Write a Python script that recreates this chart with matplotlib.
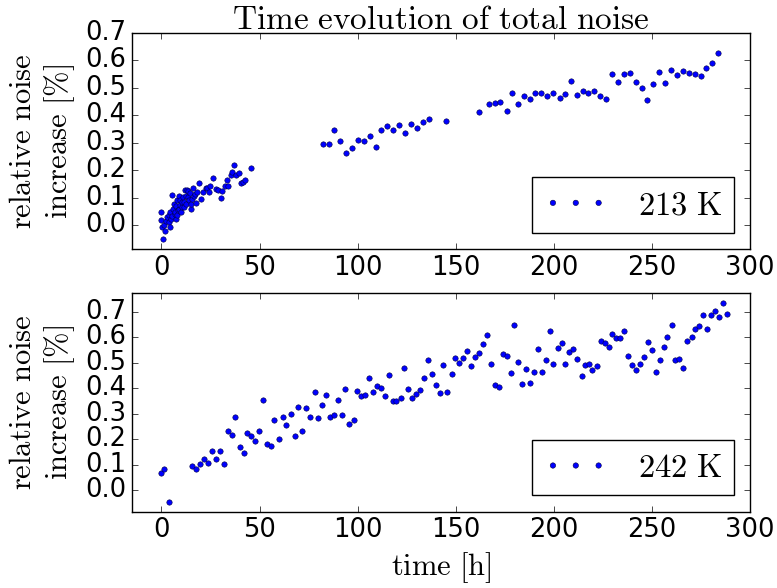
import matplotlib
matplotlib.use('Agg')
import matplotlib.pyplot as plt

# 213 K: time [h] and relative noise increase [%]
t_213 = [0, 0, 0.8, 0.5, 1.9, 1.5, 2.5, 2.9, 3.9, 3.6, 4.2, 4.6, 4.9, 5.4, 5.6, 5.9,
         6.5, 6.8, 7.0, 7.3, 7.6, 8.0, 8.1, 8.5, 8.8, 9.0, 9.3, 9.7, 10.2, 10.5, 10.7,
         11.0, 11.4, 11.5, 11.9, 12.4, 12.7, 13.1, 13.6, 13.6, 14.1, 14.4, 14.9, 15.3,
         15.4, 16.1, 16.6, 17.1, 17.5, 18.2,
         19.2, 20.0, 21.2, 22.6, 23.3, 24.1, 25.0, 26.3, 27.7, 28.9, 30.2, 31.1, 32.3,
         33.4, 34.1, 35.3, 36.2, 37.2, 38.2, 39.4, 40.4, 41.6, 42.6, 45.5,
         82.3, 85.2, 88.1, 91.2, 94.2, 97.3, 100.3, 103.4, 106.5, 109.3, 112.1, 115.1,
         118.2, 121.2, 124.1, 127.2, 130.2, 133.3, 136.3, 145.2,
         162.0, 166.7, 169.8, 172.8, 175.9, 178.9, 181.8, 185.0, 187.6, 190.6, 193.7,
         196.7, 199.8, 202.9, 205.8, 208.8, 211.9, 214.9, 217.6, 220.7, 223.6, 226.6,
         229.7, 232.7, 235.8, 238.7, 241.9, 244.8, 247.5, 250.6, 253.6, 256.7, 259.7,
         262.6, 265.9, 268.8, 271.8, 274.9, 277.6, 280.6, 283.7]
n_213 = [0.048, 0.018, -0.051, -0.006, -0.02, 0.002, 0.014, 0.03, 0.036, 0.012, -0.006,
         0.048, 0.024, 0.033, 0.11, 0.06, 0.078, 0.042, 0.048, 0.024, 0.069, 0.036, 0.09,
         0.054, 0.06, 0.105, 0.072, 0.093, 0.048, 0.066, 0.084, 0.102, 0.084, 0.066,
         0.127, 0.106, 0.078, 0.129, 0.102, 0.126, 0.09, 0.117, 0.06, 0.078, 0.096,
         0.136, 0.108, 0.114, 0.081, 0.12,
         0.153, 0.094, 0.12, 0.134, 0.136, 0.122, 0.141, 0.172, 0.131, 0.129, 0.1, 0.125,
         0.143, 0.165, 0.143, 0.184, 0.193, 0.218, 0.184, 0.189, 0.153, 0.159, 0.163,
         0.207,
         0.295, 0.295, 0.345, 0.307, 0.264, 0.28, 0.311, 0.307, 0.325, 0.283, 0.347,
         0.363, 0.347, 0.365, 0.335, 0.369, 0.353, 0.375, 0.388, 0.378,
         0.412, 0.441, 0.445, 0.449, 0.416, 0.483, 0.441, 0.469, 0.461, 0.483, 0.483,
         0.471, 0.483, 0.465, 0.478, 0.524, 0.473, 0.487, 0.481, 0.487, 0.471, 0.459,
         0.552, 0.52, 0.551, 0.554, 0.52, 0.499, 0.455, 0.514, 0.558, 0.518, 0.564,
         0.548, 0.56, 0.555, 0.549, 0.542, 0.573, 0.592, 0.629]

# 242 K
t_242 = [-0.2, 1.5, 3.7, 15.8, 17.7, 19.9, 21.9, 23.8, 25.8, 27.7, 29.9, 32.1, 33.8,
         36.0, 37.7, 39.9, 41.9, 43.8, 45.8, 47.7, 49.7, 52.0, 53.7, 55.9, 57.6, 59.8,
         62.0, 63.7, 65.9, 68.1, 69.8, 71.8, 73.7, 75.9, 78.1, 79.8, 81.8, 83.7, 85.7,
         87.9, 89.8, 91.9, 93.7, 95.8, 98.0, 99.8, 101.9, 103.9, 105.8, 108.0, 109.8,
         111.9, 113.8, 115.8, 117.8, 119.7, 121.9, 123.8, 125.8, 127.8, 129.7, 131.9,
         133.6, 135.8, 137.9, 139.7, 141.8, 143.6, 145.7, 147.9, 149.7, 151.7,
         153.8, 155.8, 157.9, 159.8, 161.8, 164.0, 165.9, 167.9, 169.8, 172.0, 174.0,
         175.9, 178.0, 179.8, 181.8, 184.0, 185.9, 187.9, 189.8, 191.9, 193.9, 195.8,
         198.0, 199.8, 201.9, 204.1, 205.8, 207.8, 209.7, 211.9, 214.1, 215.8, 218.0,
         219.7, 221.9, 224.0, 226.0, 228.0, 229.7, 231.9, 233.9, 235.8, 238.0, 239.7,
         241.9, 244.0, 245.9, 248.1, 250.1, 252.2, 254.0, 255.9, 257.9, 260.1, 262.0,
         264.0, 265.9, 267.8, 270.2, 272.1, 274.1, 276.0, 278.0, 280.1, 282.0, 284.0,
         286.1, 288.1]
n_242 = [0.068, 0.081, -0.046, 0.095, 0.084, 0.102, 0.122, 0.108, 0.152, 0.122, 0.152,
         0.102, 0.233, 0.218, 0.289, 0.17, 0.145, 0.226, 0.212, 0.192, 0.233, 0.353,
         0.183, 0.172, 0.276, 0.201, 0.289, 0.256, 0.299, 0.213, 0.325, 0.233, 0.323,
         0.289, 0.385, 0.282, 0.333, 0.372, 0.289, 0.295, 0.353, 0.295, 0.396, 0.259,
         0.276, 0.389, 0.37, 0.372, 0.439, 0.385, 0.409, 0.402, 0.37, 0.452, 0.349,
         0.349, 0.362, 0.48, 0.399, 0.363, 0.376, 0.393, 0.439, 0.51, 0.456, 0.413,
         0.383, 0.49, 0.387, 0.456, 0.52, 0.5,
         0.52, 0.546, 0.486, 0.523, 0.541, 0.574, 0.608, 0.497, 0.414, 0.406, 0.537,
         0.529, 0.46, 0.648, 0.504, 0.419, 0.477, 0.423, 0.464, 0.554, 0.464, 0.511,
         0.627, 0.494, 0.557, 0.578, 0.497, 0.544, 0.553, 0.517, 0.447, 0.491, 0.494,
         0.473, 0.486, 0.585, 0.58, 0.564, 0.614, 0.597, 0.597, 0.625, 0.527, 0.491,
         0.473, 0.494, 0.524, 0.584, 0.55, 0.464, 0.511, 0.561, 0.601, 0.648, 0.511,
         0.517, 0.481, 0.588, 0.601, 0.634, 0.646, 0.687, 0.634, 0.689, 0.704, 0.681,
         0.734, 0.694]

x_ticks = [0, 50, 100, 150, 200, 250, 300]
y_ticks = [0.0, 0.1, 0.2, 0.3, 0.4, 0.5, 0.6, 0.7]

plt.style.use('classic')
plt.rcParams['mathtext.fontset'] = 'cm'
plt.rcParams['font.family'] = ['DejaVu Sans']

fig = plt.figure(figsize=(7.77, 5.88), dpi=100, facecolor='white')
ax1 = fig.add_axes([0.1699, 0.5765, 0.7954, 0.3673])
ax2 = fig.add_axes([0.1699, 0.1298, 0.7954, 0.3719])

ylabel = r'$\mathrm{relative\ noise}$' + '\n' + r'$\mathrm{increase\ [\%]}$'

for ax, t, n, lab in [(ax1, t_213, n_213, r'$\mathrm{213\ K}$'),
                      (ax2, t_242, n_242, r'$\mathrm{242\ K}$')]:
    ax.scatter(t, n, s=15, c='b', edgecolors='#000040', linewidths=0.4, label=lab)
    ax.set_xlim(-15, 300)
    ax.set_xticks(x_ticks)
    ax.set_yticks(y_ticks)
    ax.tick_params(labelsize=18.5)
    ax.set_ylabel(ylabel, fontsize=22, multialignment='center', labelpad=6)
    ax.legend(loc='lower right', fontsize=23.5, scatterpoints=3,
              scatteryoffsets=[0.5], handlelength=2.0, handletextpad=0.9,
              borderaxespad=0.5, borderpad=0.35)

ax1.set_ylim(-0.087, 0.7)
ax2.set_ylim(-0.085, 0.775)
ax1.set_yticklabels(['%.1f' % v for v in y_ticks])
ax2.set_yticklabels(['%.1f' % v for v in y_ticks])

ax1.set_title(r'$\mathrm{Time\ evolution\ of\ total\ noise}$', fontsize=24, pad=3)
ax2.set_xlabel(r'$\mathrm{time\ [h]}$', fontsize=22)

fig.savefig('out.png', dpi=100, facecolor='white')
